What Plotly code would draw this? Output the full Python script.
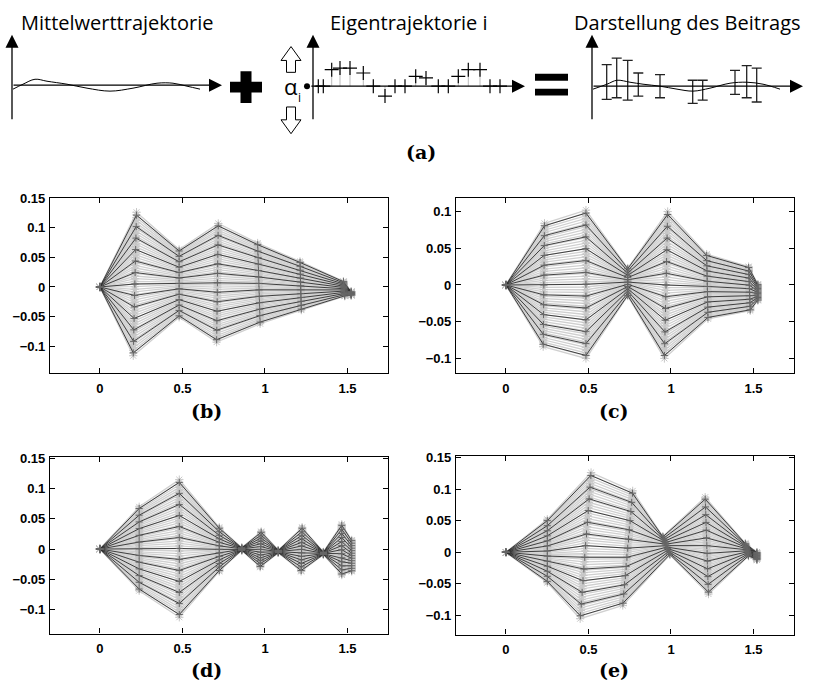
import numpy as np
import plotly.graph_objects as go

W, H = 818, 685

# ---------------- panel data (knots of the trajectories) ----------------
# x position of knots, x-component of eigentrajectory, mean y, eigen y (half envelope)
B_X    = [0, 0.212, 0.48, 0.712, 0.963, 1.216, 1.479, 1.522]
B_DX   = [0, 0.010, 0.0, 0.005, -0.0075, -0.004, -0.004, 0.0]
B_MEAN = [0, 0.005, 0.006, 0.007, 0.006, 0.002, -0.003, -0.011]
B_EIG  = [0, 0.121, 0.057, 0.100, 0.068, 0.041, 0.0125, 0.003]

C_X    = [0, 0.230, 0.485, 0.738, 0.970, 1.220, 1.475, 1.526]
C_DX   = [0, 0.004, 0.0, 0.0, 0.010, -0.004, -0.005, 0.0]
C_MEAN = [0, 0.0, 0.001, 0.004, 0.0, -0.002, -0.005, -0.010]
C_EIG  = [0, 0.084, 0.101, 0.019, 0.100, 0.044, 0.030, 0.011]

D_X    = [0, 0.238, 0.481, 0.723, 0.859, 0.974, 1.081, 1.222, 1.354, 1.465, 1.525]
D_DX   = [0, 0.0, 0.0, 0.0, 0.0, 0.003, 0.0, 0.003, 0.0, 0.0, 0.0]
D_MEAN = [0, 0.0005, 0.001, -0.0005, 0.0, -0.0005, -0.004, -0.0005, -0.007, -0.001, -0.011]
D_EIG  = [0, 0.0695, 0.114, 0.0365, 0.002, 0.0295, 0.002, 0.0365, 0.002, 0.042, 0.026]

E_X    = [0, 0.251, 0.483, 0.738, 0.972, 1.217, 1.460, 1.520]
E_DX   = [0, 0.0, 0.033, 0.030, -0.022, -0.010, -0.010, 0.0]
E_MEAN = [0, 0.002, 0.0105, 0.0065, 0.0105, 0.0105, 0.004, -0.006]
E_EIG  = [0, 0.050, 0.1155, 0.0905, 0.0145, 0.0765, 0.010, 0.006]

LIGHT_ALPHAS = np.linspace(-1.0, 1.0, 55)
DARK_ALPHAS = np.linspace(-0.96, 0.96, 13)

X_TICKS = [0, 0.5, 1, 1.5]
X_TICKTEXT = ["0", "0.5", "1", "1.5"]
Y_TICKS = [-0.1, -0.05, 0, 0.05, 0.1, 0.15]
Y_TICKTEXT = ["\u22120.1", "\u22120.05", "0", "0.05", "0.1", "0.15"]

PANEL_LABELS = ["(a)", "(b)", "(c)", "(d)", "(e)"]

# ---------------- schematic (a) data, pixel units of the top strip ----------------
MEAN_CURVE_X = [13, 23, 35, 47, 67, 87, 110, 133, 157, 173, 187, 200]
MEAN_CURVE_Y = [83, 78, 73, 75, 78, 82, 85, 82, 77, 77, 80, 83]

EIGEN_PT_X = [318.3, 323.3, 331.7, 340, 350, 363.3, 373.3, 385, 395, 405,
              415.7, 426, 438.3, 448.3, 458.3, 468.3, 480, 490, 500]
EIGEN_PT_Y = [80, 80, 63.3, 61.7, 61.7, 66.7, 80, 90, 80, 80,
              70, 71.7, 80, 80, 70, 63.3, 63.3, 80, 80]

BEITRAG_CURVE_X = [593, 607, 617, 630, 643, 660, 677, 693, 710, 730, 747, 763, 780]
BEITRAG_CURVE_Y = [83, 78, 74, 76, 78, 80, 83, 85, 82, 77, 76, 78, 83]
BAR_X = [606.7, 616.7, 627.7, 638.3, 660, 692.7, 702.7, 735, 746.7, 756.7]
BAR_TOP = [58.3, 51.7, 54, 66.7, 68.3, 74, 74, 64, 59.3, 61.7]
BAR_BOTTOM = [93.3, 91.7, 94, 90, 91.7, 97.3, 94, 88.3, 91.7, 96]

TITLES = ["Mittelwerttrajektorie", "Eigentrajektorie i", "Darstellung des Beitrags"]
TITLE_X = [117, 409, 687]

# axes arrows: (x0, y0, x1, y1) tail -> head
AXIS_ARROWS = [(12, 115, 12, 28), (12, 79, 222, 79),
               (313, 115, 313, 28), (313, 80, 525, 80),
               (592, 115, 592, 28), (592, 80, 803, 80)]

UP_ARROW_X = [291, 301, 295.5, 295.5, 286.5, 286.5, 281, 291]
UP_ARROW_Y = [40, 54, 54, 66, 66, 54, 54, 40]
DOWN_ARROW_X = [286.5, 295.5, 295.5, 301, 291, 281, 286.5, 286.5]
DOWN_ARROW_Y = [101, 101, 114, 114, 128, 114, 114, 101]

PLUS_H = (230, 75.5, 262, 86.5)
PLUS_V = (240.5, 65, 251.5, 97)
EQ_TOP = (535, 67.5, 568, 74.5)
EQ_BOT = (535, 82.5, 568, 89.5)

# ---------------- layout geometry (pixels) ----------------
PANELS = [
    # name, x0, x1, y_top, y_bottom, yrange, data
    ("b", 50, 388, 193, 370, [-0.1455, 0.15], (B_X, B_DX, B_MEAN, B_EIG)),
    ("c", 456, 794, 193, 370, [-0.1202, 0.1185], (C_X, C_DX, C_MEAN, C_EIG)),
    ("d", 50, 388, 455, 633, [-0.14, 0.152], (D_X, D_DX, D_MEAN, D_EIG)),
    ("e", 456, 794, 454, 634, [-0.13, 0.1516], (E_X, E_DX, E_MEAN, E_EIG)),
]
LABEL_POS = [(421, 146), (207, 408), (614, 408), (207, 670), (614, 670)]


def family(xk, dxk, mk, ek, alphas):
    xk, dxk, mk, ek = map(np.asarray, (xk, dxk, mk, ek))
    xs, ys = [], []
    for a in alphas:
        xs += list(xk + a * dxk) + [None]
        ys += list(mk + a * ek) + [None]
    return xs, ys


def bold(labels):
    return ["<b>%s</b>" % s for s in labels]


fig = go.Figure()

TICKFONT = dict(family="Liberation Sans", size=13, color="black")

for i, (name, x0, x1, yt, yb, yr, data) in enumerate(PANELS):
    idx = "" if i == 0 else str(i + 1)
    xa, ya = "x" + idx, "y" + idx
    lx, ly = family(*data, LIGHT_ALPHAS)
    dx_, dy_ = family(*data, DARK_ALPHAS)
    fig.add_trace(go.Scatter(x=lx, y=ly, mode="lines", xaxis=xa, yaxis=ya,
                             line=dict(color="#d0d0d0", width=1.3), hoverinfo="skip"))
    fig.add_trace(go.Scatter(x=lx, y=ly, mode="markers", xaxis=xa, yaxis=ya,
                             marker=dict(symbol="asterisk-open", size=7, color="#c6c6c6",
                                         line=dict(color="#c6c6c6", width=1)),
                             hoverinfo="skip"))
    fig.add_trace(go.Scatter(x=dx_, y=dy_, mode="lines+markers", xaxis=xa, yaxis=ya,
                             line=dict(color="#2e2e2e", width=0.9),
                             marker=dict(symbol="cross-thin-open", size=5, color="#666666",
                                         line=dict(color="#666666", width=1)),
                             hoverinfo="skip"))
    axis_common = dict(showline=True, linecolor="black", linewidth=1.2, mirror="allticks",
                       ticks="inside", ticklen=5, tickwidth=1, tickcolor="black",
                       showgrid=False, zeroline=False, tickfont=TICKFONT)
    fig.update_layout(**{
        "xaxis" + idx: dict(domain=[x0 / W, x1 / W], range=[-0.302, 1.745], anchor=ya,
                            tickvals=X_TICKS, ticktext=bold(X_TICKTEXT), ticklabelstandoff=3,
                            **axis_common),
        "yaxis" + idx: dict(domain=[1 - yb / H, 1 - yt / H], range=yr, anchor=xa,
                            tickvals=Y_TICKS, ticktext=bold(Y_TICKTEXT), ticklabelstandoff=1,
                            **axis_common),
    })

# ---------------- schematic strip ----------------
SX, SY = "x5", "y5"
fig.update_layout(
    xaxis5=dict(domain=[0, 1], range=[0, W], visible=False, anchor="y5", fixedrange=True),
    yaxis5=dict(domain=[1 - 130 / H, 1], range=[130, 0], visible=False, anchor="x5",
                fixedrange=True),
)

fig.add_trace(go.Scatter(x=MEAN_CURVE_X, y=MEAN_CURVE_Y, mode="lines", xaxis=SX, yaxis=SY,
                         line=dict(color="black", width=1, shape="spline"), hoverinfo="skip"))

stem_x, stem_y = [], []
for ex, ey in zip(EIGEN_PT_X, EIGEN_PT_Y):
    stem_x += [ex, ex, None]
    stem_y += [80, ey, None]
fig.add_trace(go.Scatter(x=stem_x, y=stem_y, mode="lines", xaxis=SX, yaxis=SY,
                         line=dict(color="#bbbbbb", width=1), hoverinfo="skip"))
fig.add_trace(go.Scatter(x=EIGEN_PT_X, y=EIGEN_PT_Y, mode="markers", xaxis=SX, yaxis=SY,
                         marker=dict(symbol="cross-thin-open", size=10, color="black",
                                     line=dict(color="black", width=1.2)),
                         hoverinfo="skip"))

bar_c = [(t + b) / 2 for t, b in zip(BAR_TOP, BAR_BOTTOM)]
bar_h = [(b - t) / 2 for t, b in zip(BAR_TOP, BAR_BOTTOM)]
fig.add_trace(go.Scatter(x=BAR_X, y=bar_c, mode="markers", xaxis=SX, yaxis=SY,
                         marker=dict(size=1, opacity=0),
                         error_y=dict(type="data", array=bar_h, symmetric=True,
                                      color="#222222", thickness=1.3, width=5),
                         hoverinfo="skip"))
fig.add_trace(go.Scatter(x=BEITRAG_CURVE_X, y=BEITRAG_CURVE_Y, mode="lines", xaxis=SX,
                         yaxis=SY, line=dict(color="black", width=1, shape="spline"),
                         hoverinfo="skip"))

for px_, py_ in ((UP_ARROW_X, UP_ARROW_Y), (DOWN_ARROW_X, DOWN_ARROW_Y)):
    fig.add_trace(go.Scatter(x=px_, y=py_, mode="lines", xaxis=SX, yaxis=SY,
                             line=dict(color="black", width=1), hoverinfo="skip"))

fig.add_trace(go.Scatter(x=[307], y=[80], mode="markers", xaxis=SX, yaxis=SY,
                         marker=dict(color="black", size=6), hoverinfo="skip"))

for (x0, y0, x1, y1) in (PLUS_H, PLUS_V, EQ_TOP, EQ_BOT):
    fig.add_shape(type="rect", xref=SX, yref=SY, x0=x0, y0=y0, x1=x1, y1=y1,
                  fillcolor="black", line=dict(width=0))

for (x0, y0, x1, y1) in AXIS_ARROWS:
    fig.add_annotation(x=x1, y=y1, ax=x0, ay=y0, xref=SX, yref=SY, axref=SX, ayref=SY,
                       showarrow=True, arrowhead=2, arrowsize=2.0, arrowwidth=1.3,
                       arrowcolor="black", text="")

for t, tx in zip(TITLES, TITLE_X):
    fig.add_annotation(x=tx, y=16, xref=SX, yref=SY, text=t, showarrow=False,
                       font=dict(family="Open Sans", size=20, color="black"),
                       xanchor="center", yanchor="middle")

fig.add_annotation(x=291, y=80, xref=SX, yref=SY, text="α", showarrow=False,
                   font=dict(family="Open Sans", size=22, color="black"),
                   xanchor="center", yanchor="middle")
fig.add_annotation(x=299, y=91, xref=SX, yref=SY, text="i", showarrow=False,
                   font=dict(family="Open Sans", size=12, color="black"),
                   xanchor="center", yanchor="middle")

for lab, (lx_, ly_) in zip(PANEL_LABELS, LABEL_POS):
    fig.add_annotation(x=lx_ / W, y=1 - ly_ / H, xref="paper", yref="paper",
                       text="<b>%s</b>" % lab,
                       showarrow=False, xanchor="center", yanchor="middle",
                       font=dict(family="DejaVu Serif", size=19, color="black"))

fig.update_layout(width=W, height=H, margin=dict(l=0, r=0, t=0, b=0),
                  paper_bgcolor="white", plot_bgcolor="white", showlegend=False)

fig.write_html("out.html")
